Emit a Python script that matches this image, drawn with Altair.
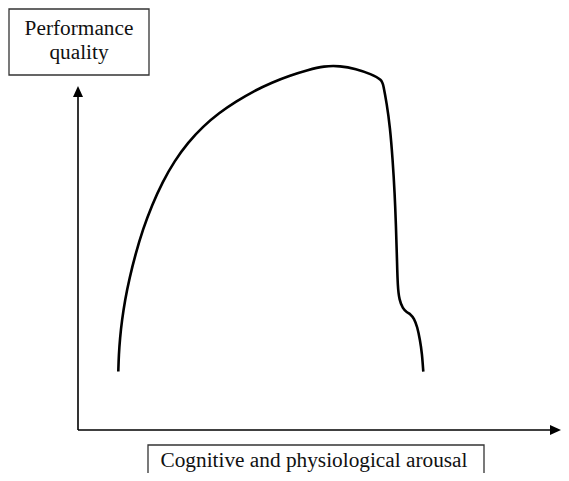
import altair as alt
import pandas as pd

# Curve: arousal (distance right of the vertical axis) vs performance (height above the horizontal axis)
arousal = [40.3, 40.8, 42, 44, 47, 51.5, 57.5, 65, 74, 84.5, 96.5, 110, 125, 141, 158, 176, 194,
           212, 230, 246, 262, 278, 293, 304,
           305.3, 308.7, 312, 314.7, 316.7, 318, 319, 319.7, 321.3, 324.7, 328.7, 332.7, 336,
           339.3, 342, 344, 345.3]
performance = [58.5, 75, 92, 110, 130, 152, 176, 201, 225, 248, 269, 287.5, 303.5, 317, 328.5,
               339, 347.5, 354.5, 360, 364, 364.2, 361.2, 356, 350,
               345, 326.7, 303.3, 270, 236.7, 203.3, 170, 143.3, 130, 121.7, 117.7, 115.7, 111.7,
               103.3, 90, 76.7, 58.3]

# Axis extents (arrow base and tip)
x_axis_end = [472, 483]
y_axis_end = [333, 344]
arrow_half = 5

# Label boxes
box_x1 = [-69, 70]
box_x2 = [71, 406]
box_y1 = [421, -15]
box_y2 = [355, -70]

# Label text lines
text_lines = ["Performance", "quality", "Cognitive and physiological arousal"]
text_x = [1, 1, 236]
text_y = [395, 371, -37]

xs = alt.Scale(domain=[-70, 483], nice=False, zero=False)
ys = alt.Scale(domain=[-43, 422], nice=False, zero=False)

curve_df = pd.DataFrame({"a": arousal, "p": performance, "i": range(len(arousal))})
curve = alt.Chart(curve_df).mark_line(
    color="black", strokeWidth=2.6, interpolate="basis"
).encode(
    x=alt.X("a:Q", scale=xs, axis=None),
    y=alt.Y("p:Q", scale=ys, axis=None),
    order="i:Q",
)

axes_df = pd.DataFrame({
    "x1": [0, 0], "x2": [x_axis_end[0], 0],
    "y1": [0, 0], "y2": [0, y_axis_end[0]],
})
axes = alt.Chart(axes_df).mark_rule(color="black", strokeWidth=1.6).encode(
    x=alt.X("x1:Q", scale=xs, axis=None), x2="x2:Q",
    y=alt.Y("y1:Q", scale=ys, axis=None), y2="y2:Q",
)

# vertical arrow head (triangle as area over x)
up_df = pd.DataFrame({
    "x": [-arrow_half, 0, arrow_half],
    "y": [y_axis_end[0], y_axis_end[1], y_axis_end[0]],
    "y2": [y_axis_end[0]] * 3,
})
up_head = alt.Chart(up_df).mark_area(color="black", interpolate="linear").encode(
    x=alt.X("x:Q", scale=xs, axis=None),
    y=alt.Y("y:Q", scale=ys, axis=None), y2="y2:Q",
)

# horizontal arrow head (triangle as area over y)
right_df = pd.DataFrame({
    "y": [-arrow_half, 0, arrow_half],
    "x": [x_axis_end[0], x_axis_end[1], x_axis_end[0]],
    "x2": [x_axis_end[0]] * 3,
})
right_head = alt.Chart(right_df).mark_area(
    color="black", interpolate="linear", orient="horizontal"
).encode(
    y=alt.Y("y:Q", scale=ys, axis=None),
    x=alt.X("x:Q", scale=xs, axis=None), x2="x2:Q",
)

box_df = pd.DataFrame({"x1": box_x1, "x2": box_x2, "y1": box_y1, "y2": box_y2})
boxes = alt.Chart(box_df).mark_rect(
    fill="white", stroke="#333333", strokeWidth=1.3
).encode(
    x=alt.X("x1:Q", scale=xs, axis=None), x2="x2:Q",
    y=alt.Y("y1:Q", scale=ys, axis=None), y2="y2:Q",
)

text_df = pd.DataFrame({"t": text_lines, "x": text_x, "y": text_y})
texts = alt.Chart(text_df).mark_text(
    font="Liberation Serif", fontSize=21.3, color="#111111",
    align="center", baseline="alphabetic"
).encode(
    x=alt.X("x:Q", scale=xs, axis=None),
    y=alt.Y("y:Q", scale=ys, axis=None),
    text="t:N",
)

chart = alt.layer(boxes, texts, axes, up_head, right_head, curve).properties(
    width=553, height=465, autosize=alt.AutoSizeParams(type="none"), padding=0,
    background="white",
).configure_view(stroke=None)

chart.save("out.html", embed_options={"renderer": "svg", "actions": False})
